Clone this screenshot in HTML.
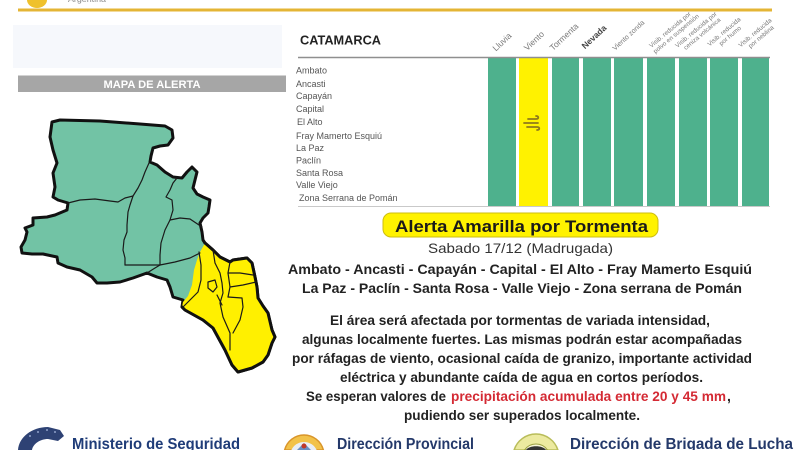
<!DOCTYPE html>
<html>
<head>
<meta charset="utf-8">
<style>
html,body{margin:0;padding:0;background:#fff;}
body{width:800px;height:450px;overflow:hidden;}
svg{display:block;}
text{font-family:"Liberation Sans",sans-serif;}
</style>
</head>
<body>
<svg width="800" height="450" viewBox="0 0 800 450" xmlns="http://www.w3.org/2000/svg">
  <rect x="0" y="0" width="800" height="450" fill="#ffffff"/>

  <!-- header remnants -->
  <path d="M27,0 A10,8 0 0 0 47,0 Z" fill="#efc12c"/>
  <text x="68" y="2" font-size="8" fill="#8a8a8a" textLength="38" lengthAdjust="spacingAndGlyphs">Argentina</text>
  <rect x="18" y="8.5" width="754" height="3" fill="#e4b535"/>

  <!-- left map panel -->
  <rect x="13" y="25" width="269" height="43" fill="#f6f8fc"/>
  <rect x="18" y="75.5" width="268" height="16.5" fill="#a6a6a6"/>
  <text x="152" y="88" font-size="11" font-weight="bold" fill="#ffffff" text-anchor="middle" textLength="97" lengthAdjust="spacingAndGlyphs">MAPA DE ALERTA</text>

  <!-- Map -->
  <g stroke-linejoin="round" stroke-linecap="round">
    <path d="M52,122 L60,120 L100,121 L140,124 L165,126 L172,130 L173,138 L168,145 L160,146 L153,148 L151,156 L150,162 L157,165 L165,172 L173,177 L182,178 L187,172 L192,167 L197,172 L195,180 L193,188 L197,194 L203,197 L210,200 L209,207 L208,213 L203,218 L200,223 L202,232 L203,240 L205,243 L213,250 L220,257 L230,262 L233,260 L247,258 L252,263 L255,277 L257,287 L258,298 L263,306 L268,313 L272,330 L275,337 L272,343 L268,355 L263,362 L252,368 L238,372 L232,365 L225,350 L213,328 L203,320 L185,310 L182,307 L183,300 L173,297 L170,287 L167,280 L157,277 L147,273 L133,278 L120,282 L107,283 L97,283 L92,277 L80,270 L67,267 L58,263 L57,257 L43,254 L32,254 L22,253 L21,247 L25,240 L27,232 L25,228 L33,225 L33,218 L47,217 L55,215 L67,210 L68,203 L58,200 L53,197 L55,187 L53,173 L57,163 L53,150 L50,137 Z" fill="#72c3a5" stroke="#111" stroke-width="3"/>
    <path d="M200,252 L205,243 L213,250 L220,257 L230,262 L233,260 L247,258 L252,263 L255,277 L257,287 L258,298 L263,306 L268,313 L272,330 L275,337 L272,343 L268,355 L263,362 L252,368 L238,372 L232,365 L225,350 L213,328 L203,320 L185,310 L182,307 L183,302 L188,296 L192,285 L194,270 L197,260 Z" fill="#fff000" stroke="none"/>
    <path d="M205,243 L213,250 L220,257 L230,262 L233,260 L247,258 L252,263 L255,277 L257,287 L258,298 L263,306 L268,313 L272,330 L275,337 L272,343 L268,355 L263,362 L252,368 L238,372 L232,365 L225,350 L213,328 L203,320 L185,310 L182,307" fill="none" stroke="#111" stroke-width="3"/>
    <g fill="none" stroke="#1a1a1a" stroke-width="1.2">
      <path d="M68,203 L80,200 L95,199 L110,201 L118,202 L125,198 L133,196"/>
      <path d="M149,163 L145,172 L142,180 L138,188 L133,196 L130,205 L128,212 L127,225 L127,232 L124,240 L123,250 L125,258 L125,265"/>
      <path d="M125,265 L140,265 L160,265 L175,262 L190,258 L200,253"/>
      <path d="M147,273 L155,268 L160,265"/>
      <path d="M160,265 L160,255 L161,243 L165,230 L170,220 L173,210 L172,200 L166,197 L170,190 L173,183 L177,178"/>
      <path d="M170,220 L180,218 L190,219 L202,227"/>
      <path d="M199,252 L201,265 L201,280 L198,292 L190,300 L183,307"/>
      <path d="M213,250 L215,263 L220,273 L222,283 L223,293 L220,303 L223,317 L230,333 L230,350"/>
      <path d="M230,262 L228,273 L230,287 L228,297"/>
      <path d="M228,273 L240,273 L253,275"/>
      <path d="M230,287 L243,285 L256,282"/>
      <path d="M208,282 L215,280 L217,287 L213,292 L208,288 Z"/>
      <path d="M228,297 L242,298 L243,307 L240,320 L233,333"/>
      <path d="M217,295 L222,305"/>
    </g>
  </g>

  <!-- Table -->
  <text x="300" y="44.5" font-size="12.5" font-weight="bold" fill="#222" textLength="81" lengthAdjust="spacingAndGlyphs">CATAMARCA</text>

  <g>
    <rect x="488" y="58" width="28" height="148" fill="#4eb18d"/>
    <rect x="519" y="58" width="29" height="148" fill="#fff200"/>
    <rect x="552" y="58" width="27" height="148" fill="#4eb18d"/>
    <rect x="583" y="58" width="28" height="148" fill="#4eb18d"/>
    <rect x="614" y="58" width="29" height="148" fill="#4eb18d"/>
    <rect x="647" y="58" width="28" height="148" fill="#4eb18d"/>
    <rect x="679" y="58" width="28" height="148" fill="#4eb18d"/>
    <rect x="710" y="58" width="28" height="148" fill="#4eb18d"/>
    <rect x="742" y="58" width="27" height="148" fill="#4eb18d"/>
  </g>
  <line x1="298" y1="57.5" x2="770" y2="57.5" stroke="#8f8f8f" stroke-width="1.5"/>
  <line x1="298" y1="206.5" x2="770" y2="206.5" stroke="#c9c9c9" stroke-width="1"/>

  <!-- wind icon -->
  <g fill="none" stroke="#8e7a1c" stroke-width="1.8" stroke-linecap="round">
    <path d="M528,119 L536,119 C539,119 539,116 536,116"/>
    <path d="M524,123 L538,123"/>
    <path d="M527,127 L537,127 C540,127 540,130 537,130"/>
  </g>

  <!-- column headers -->
  <g font-size="8.5" fill="#7a7a7a" text-anchor="middle">
    <text transform="translate(504,44) rotate(-43)">Lluvia</text>
    <text transform="translate(536,43) rotate(-43)">Viento</text>
    <text transform="translate(566,39) rotate(-43)">Tormenta</text>
    <text transform="translate(596,39) rotate(-43)" font-weight="bold" fill="#444">Nevada</text>
    <text transform="translate(630,37) rotate(-43)" font-size="7">Viento zonda</text>
  </g>
  <g font-size="6.3" fill="#7a7a7a" text-anchor="middle">
    <g transform="translate(672,32) rotate(-40)"><text x="0" y="-1">Visib. reducida por</text><text x="2" y="6">polvo en suspensión</text></g>
    <g transform="translate(698,32) rotate(-40)"><text x="0" y="-1">Visib. reducida por</text><text x="2" y="6">ceniza volcánica</text></g>
    <g transform="translate(726,34) rotate(-40)"><text x="0" y="-1">Visib. reducida</text><text x="2" y="6">por humo</text></g>
    <g transform="translate(757,35) rotate(-40)"><text x="0" y="-1">Visib. reducida</text><text x="2" y="6">por neblina</text></g>
  </g>

  <!-- row labels -->
  <g font-size="9" fill="#555">
    <text x="296" y="73.5">Ambato</text>
    <text x="296" y="87">Ancasti</text>
    <text x="296" y="99">Capayán</text>
    <text x="296" y="112">Capital</text>
    <text x="297" y="125">El Alto</text>
    <text x="296" y="139">Fray Mamerto Esquiú</text>
    <text x="296" y="151">La Paz</text>
    <text x="296" y="163.5">Paclín</text>
    <text x="296" y="176">Santa Rosa</text>
    <text x="296" y="188">Valle Viejo</text>
    <text x="299" y="201">Zona Serrana de Pomán</text>
  </g>

  <!-- Alert box -->
  <rect x="383" y="213" width="275" height="24" rx="8" ry="8" fill="#fff200" stroke="#cdbd10" stroke-width="1"/>
  <text x="395" y="232" font-size="17" font-weight="bold" fill="#1a1a1a" textLength="253" lengthAdjust="spacingAndGlyphs">Alerta Amarilla por Tormenta</text>
  <text x="428" y="253" font-size="14" fill="#333" textLength="185" lengthAdjust="spacingAndGlyphs">Sabado 17/12 (Madrugada)</text>
  <g font-size="14" font-weight="bold" fill="#222">
    <text x="288" y="274" textLength="464" lengthAdjust="spacingAndGlyphs">Ambato - Ancasti - Capayán - Capital - El Alto - Fray Mamerto Esquiú</text>
    <text x="302" y="293" textLength="440" lengthAdjust="spacingAndGlyphs">La Paz - Paclín - Santa Rosa - Valle Viejo - Zona serrana de Pomán</text>
    <text x="330" y="325" textLength="380" lengthAdjust="spacingAndGlyphs">El área será afectada por tormentas de variada intensidad,</text>
    <text x="302" y="344" textLength="440" lengthAdjust="spacingAndGlyphs">algunas localmente fuertes. Las mismas podrán estar acompañadas</text>
    <text x="292" y="363" textLength="460" lengthAdjust="spacingAndGlyphs">por ráfagas de viento, ocasional caída de granizo, importante actividad</text>
    <text x="340" y="382" textLength="363" lengthAdjust="spacingAndGlyphs">eléctrica y abundante caída de agua en cortos períodos.</text>
    <text x="306" y="401" textLength="140" lengthAdjust="spacingAndGlyphs">Se esperan valores de</text>
    <text x="451" y="401" fill="#d42a34" textLength="275" lengthAdjust="spacingAndGlyphs">precipitación acumulada entre 20 y 45 mm</text>
    <text x="727" y="401">,</text>
    <text x="404" y="420" textLength="236" lengthAdjust="spacingAndGlyphs">pudiendo ser superados localmente.</text>
  </g>

  <!-- Footer logos -->
  <path d="M18,450 C19,437 32,427 48,427 L60,430 L64,436 L58,441 L48,439 C40,439 33,444 32,450 Z" fill="#2e4274"/>
  <g fill="#8fa0c8"><circle cx="30" cy="436" r="1"/><circle cx="38" cy="432" r="1"/><circle cx="47" cy="430" r="1"/><circle cx="55" cy="432" r="1"/></g>

  <path d="M284.64,450 A20,20 0 0 1 323.36,450 Z" fill="#f2c24a" stroke="#d9952a" stroke-width="1.5"/>
  <path d="M291.35,450 A14,14 0 0 1 316.65,450 Z" fill="#e9eef6"/>
  <path d="M297,450 L304,443 L311,450 Z" fill="#6a8fc4"/>
  <circle cx="304" cy="446" r="2.5" fill="#c0392b"/>

  <path d="M514.1,450 A23,23 0 0 1 557.9,450 Z" fill="#eceaa0" stroke="#b9bd5a" stroke-width="1.5"/>
  <path d="M524.5,450 A14,14 0 0 1 547.5,450 Z" fill="#f8f6d8" stroke="#9aa040" stroke-width="1"/>
  <path d="M526,450 C529,445 543,445 546,450 Z" fill="#333"/>

  <g font-size="16" font-weight="bold" fill="#1f3c78">
    <text x="72" y="449" textLength="168" lengthAdjust="spacingAndGlyphs">Ministerio de Seguridad</text>
    <text x="337" y="449" fill="#24396a" textLength="137" lengthAdjust="spacingAndGlyphs">Dirección Provincial</text>
    <text x="570" y="449" fill="#24396a" textLength="223" lengthAdjust="spacingAndGlyphs">Dirección de Brigada de Lucha</text>
  </g>
</svg>
</body>
</html>
